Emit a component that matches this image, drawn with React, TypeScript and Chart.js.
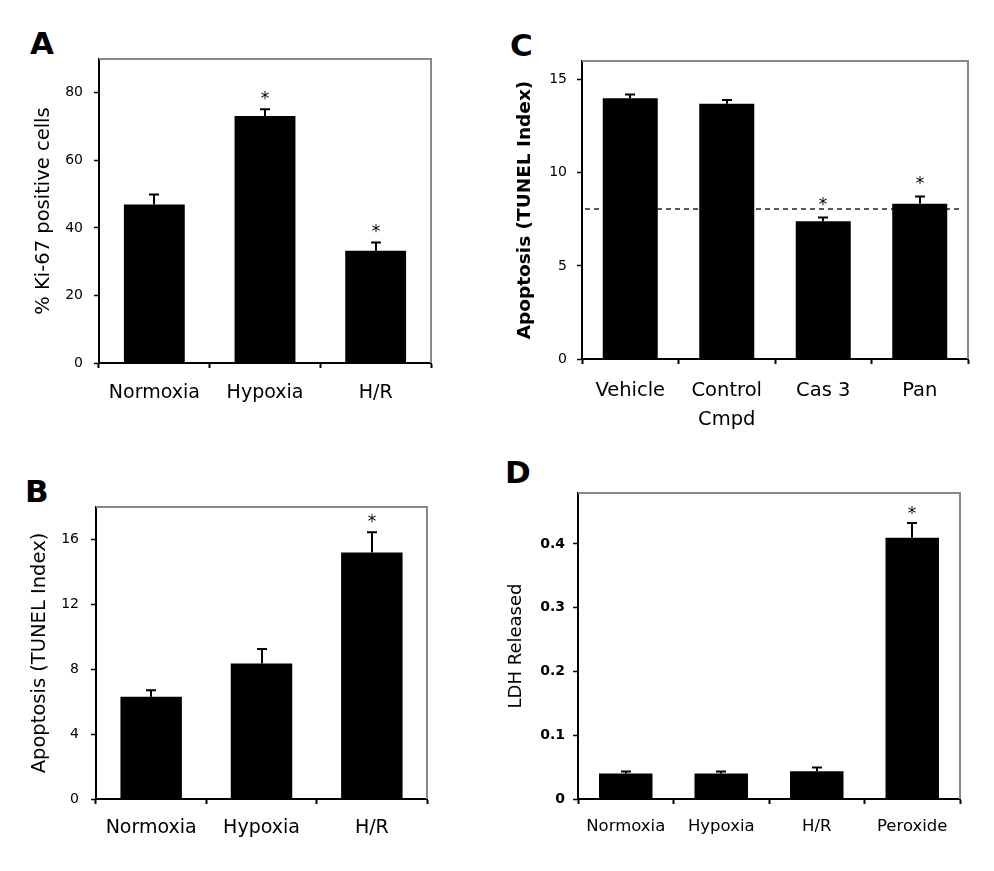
import React, { useEffect, useRef } from 'react';
import { Chart, registerables } from 'chart.js';

Chart.register(...registerables);

const FONT = '"DejaVu Sans", "Liberation Sans", sans-serif';

// ---------- Panel A ----------
const aCategories = ['Normoxia', 'Hypoxia', 'H/R'];
const aValues = [46.9, 73.1, 33.2];
const aErrors = [3.0, 2.0, 2.5];
const aStars = [false, true, true];
const aYTitle = '% Ki-67 positive cells';
const aYMax = 90;
const aYStep = 20;

// ---------- Panel B ----------
const bCategories = ['Normoxia', 'Hypoxia', 'H/R'];
const bValues = [6.3, 8.35, 15.2];
const bErrors = [0.4, 0.9, 1.25];
const bStars = [false, false, true];
const bYTitle = 'Apoptosis (TUNEL Index)';
const bYMax = 18;
const bYStep = 4;

// ---------- Panel C ----------
const cCategories: (string | string[])[] = ['Vehicle', ['Control', 'Cmpd'], 'Cas 3', 'Pan'];
const cValues = [14.0, 13.7, 7.4, 8.33];
const cErrors = [0.2, 0.2, 0.2, 0.4];
const cStars = [false, false, true, true];
const cReferenceLine = 8.05;
const cYTitle = 'Apoptosis (TUNEL Index)';
const cYMax = 16;
const cYStep = 5;

// ---------- Panel D ----------
const dCategories = ['Normoxia', 'Hypoxia', 'H/R', 'Peroxide'];
const dValues = [0.04, 0.04, 0.0435, 0.41];
const dErrors = [0.003, 0.003, 0.006, 0.023];
const dStars = [false, false, false, true];
const dYTitle = 'LDH Released';
const dYMax = 0.48;
const dYStep = 0.1;

const annotPlugin = {
  id: 'annot',
  beforeDatasetsDraw(chart: any, _args: any, opts: any) {
    if (opts.refLine == null) return;
    const { ctx, chartArea } = chart;
    const y = chart.scales.y.getPixelForValue(opts.refLine);
    ctx.save();
    ctx.strokeStyle = '#222';
    ctx.lineWidth = 1.5;
    ctx.setLineDash([5, 4]);
    ctx.beginPath();
    ctx.moveTo(chartArea.left + 3, y);
    ctx.lineTo(chartArea.right - 8, y);
    ctx.stroke();
    ctx.restore();
  },
  afterDatasetsDraw(chart: any, _args: any, opts: any) {
    const { ctx } = chart;
    const meta = chart.getDatasetMeta(0);
    const ys = chart.scales.y;
    const values = chart.data.datasets[0].data as number[];
    ctx.save();
    ctx.strokeStyle = '#000';
    ctx.fillStyle = '#000';
    ctx.lineWidth = 2;
    meta.data.forEach((bar: any, i: number) => {
      const x = Math.round(bar.x);
      const y0 = ys.getPixelForValue(values[i]);
      const y1 = ys.getPixelForValue(values[i] + opts.errors[i]);
      ctx.beginPath();
      ctx.moveTo(x, y0);
      ctx.lineTo(x, y1);
      ctx.moveTo(x - 5, y1);
      ctx.lineTo(x + 5, y1);
      ctx.stroke();
      if (opts.stars[i]) {
        ctx.font = `17px ${FONT}`;
        ctx.textAlign = 'center';
        ctx.textBaseline = 'alphabetic';
        ctx.fillText('*', x, y1 - opts.starGap + 9);
      }
    });
    ctx.restore();
  },
  afterDraw(chart: any) {
    const { ctx, chartArea } = chart;
    const { left, top, right, bottom } = chartArea;
    ctx.save();
    ctx.strokeStyle = '#888';
    ctx.lineWidth = 2;
    ctx.beginPath();
    ctx.moveTo(left, top);
    ctx.lineTo(right, top);
    ctx.lineTo(right, bottom);
    ctx.stroke();
    ctx.restore();
  },
};

type PanelProps = {
  left: number;
  top: number;
  width: number;
  height: number;
  categories: (string | string[])[];
  values: number[];
  errors: number[];
  stars: boolean[];
  refLine?: number;
  yTitle: string;
  yMax: number;
  yStep: number;
  yWidth: number;
  xHeight: number;
  padTop: number;
  padRight: number;
  barPct: number;
  titleFont: any;
  titlePad: number;
  xFont: any;
  xPad: number;
  yFont: any;
  yPad: number;
  yFormat?: (v: number) => string;
  starGap: number;
};

function BarPanel(p: PanelProps) {
  const ref = useRef<HTMLCanvasElement | null>(null);
  useEffect(() => {
    if (!ref.current) return;
    const isStep = (v: number) => Math.abs(v / p.yStep - Math.round(v / p.yStep)) < 1e-6;
    const chart = new Chart(ref.current, {
      type: 'bar',
      data: {
        labels: p.categories as any,
        datasets: [
          {
            data: p.values,
            backgroundColor: '#000',
            borderWidth: 0,
            barPercentage: p.barPct,
            categoryPercentage: 1,
          },
        ],
      },
      options: {
        animation: false,
        responsive: false,
        events: [],
        layout: { padding: { left: 0, top: p.padTop, right: p.padRight, bottom: 0 } },
        plugins: {
          legend: { display: false },
          tooltip: { enabled: false },
          annot: { errors: p.errors, stars: p.stars, refLine: p.refLine, starGap: p.starGap },
        } as any,
        scales: {
          x: {
            grid: {
              offset: true,
              drawOnChartArea: false,
              drawTicks: true,
              tickLength: 5,
              tickColor: '#000',
              tickWidth: 2,
            },
            border: { display: true, color: '#000', width: 2 },
            ticks: {
              color: '#000',
              font: p.xFont,
              padding: p.xPad,
              maxRotation: 0,
              minRotation: 0,
              autoSkip: false,
            },
            afterFit: (s: any) => {
              s.height = p.xHeight;
            },
          },
          y: {
            min: 0,
            max: p.yMax,
            grid: {
              drawOnChartArea: false,
              drawTicks: true,
              tickLength: 5,
              tickColor: '#000',
              tickWidth: 1.5,
            },
            border: { display: true, color: '#000', width: 2 },
            ticks: {
              stepSize: p.yStep,
              color: '#000',
              font: p.yFont,
              padding: p.yPad,
              callback: (v: any) => (p.yFormat ? p.yFormat(Number(v)) : String(v)),
            },
            title: {
              display: true,
              text: p.yTitle,
              color: '#000',
              font: p.titleFont,
              padding: { top: p.titlePad, bottom: 0 },
            },
            afterBuildTicks: (s: any) => {
              s.ticks = s.ticks.filter((t: any) => isStep(t.value));
            },
            afterFit: (s: any) => {
              s.width = p.yWidth;
            },
          },
        },
      } as any,
      plugins: [annotPlugin as any],
    });
    return () => chart.destroy();
  }, []);
  return (
    <canvas
      ref={ref}
      width={p.width}
      height={p.height}
      style={{ position: 'absolute', left: p.left, top: p.top, width: p.width, height: p.height }}
    />
  );
}

const letterStyle: React.CSSProperties = {
  position: 'absolute',
  fontFamily: FONT,
  fontWeight: 'bold',
  fontSize: 31,
  lineHeight: '31px',
  color: '#000',
};

export default function App() {
  const tickFont = { family: FONT, size: 14 };
  return (
    <div
      style={{
        position: 'absolute',
        left: 0,
        top: 0,
        width: 994,
        height: 871,
        background: '#fff',
        overflow: 'hidden',
      }}
    >
      <div style={{ ...letterStyle, left: 30, top: 28 }}>A</div>
      <div style={{ ...letterStyle, left: 510, top: 30 }}>C</div>
      <div style={{ ...letterStyle, left: 25, top: 476 }}>B</div>
      <div style={{ ...letterStyle, left: 505, top: 457 }}>D</div>

      <BarPanel
        left={0}
        top={20}
        width={480}
        height={400}
        categories={aCategories}
        values={aValues}
        errors={aErrors}
        stars={aStars}
        yTitle={aYTitle}
        yMax={aYMax}
        yStep={aYStep}
        yWidth={99}
        xHeight={57}
        padTop={39}
        padRight={49}
        barPct={0.55}
        titleFont={{ family: FONT, size: 19.5 }}
        titlePad={32}
        xFont={{ family: FONT, size: 19 }}
        xPad={14}
        yFont={tickFont}
        yPad={11}
        starGap={14}
      />

      <BarPanel
        left={480}
        top={20}
        width={514}
        height={420}
        categories={cCategories}
        values={cValues}
        errors={cErrors}
        stars={cStars}
        refLine={cReferenceLine}
        yTitle={cYTitle}
        yMax={cYMax}
        yStep={cYStep}
        yWidth={102}
        xHeight={81}
        padTop={41}
        padRight={26}
        barPct={0.57}
        titleFont={{ family: FONT, size: 18.5, weight: 'bold' }}
        titlePad={34}
        xFont={{ family: FONT, size: 19.5, lineHeight: 1.5 }}
        xPad={12}
        yFont={tickFont}
        yPad={10}
        starGap={16}
      />

      <BarPanel
        left={0}
        top={460}
        width={480}
        height={400}
        categories={bCategories}
        values={bValues}
        errors={bErrors}
        stars={bStars}
        yTitle={bYTitle}
        yMax={bYMax}
        yStep={bYStep}
        yWidth={96}
        xHeight={61}
        padTop={47}
        padRight={53}
        barPct={0.557}
        titleFont={{ family: FONT, size: 19.5 }}
        titlePad={28}
        xFont={{ family: FONT, size: 19 }}
        xPad={13}
        yFont={tickFont}
        yPad={12}
        starGap={14}
      />

      <BarPanel
        left={480}
        top={460}
        width={514}
        height={400}
        categories={dCategories}
        values={dValues}
        errors={dErrors}
        stars={dStars}
        yTitle={dYTitle}
        yMax={dYMax}
        yStep={dYStep}
        yWidth={98}
        xHeight={61}
        padTop={33}
        padRight={34}
        barPct={0.56}
        titleFont={{ family: FONT, size: 18 }}
        titlePad={26}
        xFont={{ family: FONT, size: 16.5 }}
        xPad={13}
        yFont={{ family: FONT, size: 14, weight: 'bold' }}
        yPad={8}
        yFormat={(v) => (v === 0 ? '0' : v.toFixed(1))}
        starGap={13}
      />
    </div>
  );
}
